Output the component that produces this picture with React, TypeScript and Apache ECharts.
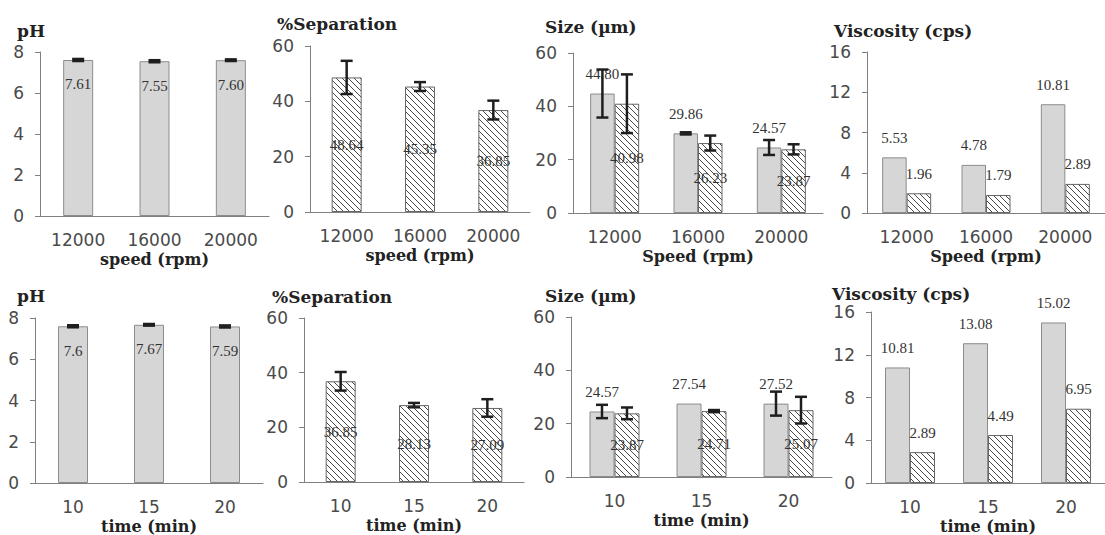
import React, { useEffect, useRef } from "react";
import * as echarts from "echarts";

// ---- data ----
const speedCats = ["12000", "16000", "20000"];
const timeCats = ["10", "15", "20"];

const pHSpeed = [7.61, 7.55, 7.6];
const pHSpeedErr = [0.05, 0.05, 0.04];
const sepSpeed = [48.64, 45.35, 36.85];
const sepSpeedErr = [6.0, 1.6, 3.4];
const sizeSpeedA = [44.8, 29.86, 24.57];
const sizeSpeedAErr = [9.0, 0.4, 2.8];
const sizeSpeedB = [40.98, 26.23, 23.87];
const sizeSpeedBErr = [11.0, 2.8, 1.9];
const viscSpeedA = [5.53, 4.78, 10.81];
const viscSpeedB = [1.96, 1.79, 2.89];

const pHTime = [7.6, 7.67, 7.59];
const pHTimeErr = [0.05, 0.04, 0.05];
const sepTime = [36.85, 28.13, 27.09];
const sepTimeErr = [3.4, 0.8, 3.2];
const sizeTimeA = [24.57, 27.54, 27.52];
const sizeTimeAErr = [2.5, 0, 4.5];
const sizeTimeB = [23.87, 24.71, 25.07];
const sizeTimeBErr = [2.2, 0.4, 5.0];
const viscTimeA = [10.81, 13.08, 15.02];
const viscTimeB = [2.89, 4.49, 6.95];

const TICK_FONT = "DejaVu Sans";
const SERIF = "Liberation Serif";
const TITLE_FONT = "DejaVu Serif";

function makeHatch(): string {
  const c = document.createElement("canvas");
  c.width = 6;
  c.height = 6;
  const ctx = c.getContext("2d")!;
  ctx.fillStyle = "#ffffff";
  ctx.fillRect(0, 0, 6, 6);
  ctx.strokeStyle = "#4a4a4a";
  ctx.lineWidth = 1;
  ctx.beginPath();
  ctx.moveTo(-1, -1);
  ctx.lineTo(7, 7);
  ctx.moveTo(-1, 5);
  ctx.lineTo(1, 7);
  ctx.moveTo(5, -1);
  ctx.lineTo(7, 1);
  ctx.stroke();
  return c.toDataURL();
}

type SeriesSpec = {
  values: number[];
  errs?: number[];
  kind: "gray" | "hatch";
  label: any;
  fmt: (v: number) => string;
};

type Panel = {
  grid: { left: number; top: number; width: number; height: number };
  cats: string[];
  max: number;
  interval: number;
  title: string;
  titlePos: { left: number; top: number };
  xName: string;
  barWidth: number;
  series: SeriesSpec[];
};

const f2 = (v: number) => v.toFixed(2);
const raw = (v: number) => String(v);

export default function App() {
  const ref = useRef<HTMLDivElement>(null);

  useEffect(() => {
    if (!ref.current) return;
    const chart = echarts.init(ref.current, undefined, { renderer: "svg" });
    const hatch = makeHatch();

    const pHLabel = { show: true, position: "insideTop", distance: 17 };
    const inLabel = { show: true, position: "inside" };
    const topLabel = { show: true, position: "top", distance: 12 };

    const panels: Panel[] = [
      {
        grid: { left: 40, top: 52, width: 229, height: 164 },
        cats: speedCats, max: 8, interval: 2, title: "pH",
        titlePos: { left: 17, top: 22 }, xName: "speed (rpm)", barWidth: 30,
        series: [{ values: pHSpeed, errs: pHSpeedErr, kind: "gray", label: pHLabel, fmt: f2 }],
      },
      {
        grid: { left: 310, top: 46, width: 220, height: 166 },
        cats: speedCats, max: 60, interval: 20, title: "%Separation",
        titlePos: { left: 277, top: 15 }, xName: "speed (rpm)", barWidth: 30,
        series: [{ values: sepSpeed, errs: sepSpeedErr, kind: "hatch", label: inLabel, fmt: f2 }],
      },
      {
        grid: { left: 573, top: 53, width: 250, height: 160 },
        cats: speedCats, max: 60, interval: 20, title: "Size (µm)",
        titlePos: { left: 545, top: 18 }, xName: "Speed (rpm)", barWidth: 24.5,
        series: [
          { values: sizeSpeedA, errs: sizeSpeedAErr, kind: "gray", label: topLabel, fmt: f2 },
          { values: sizeSpeedB, errs: sizeSpeedBErr, kind: "hatch", label: inLabel, fmt: f2 },
        ],
      },
      {
        grid: { left: 867, top: 52, width: 253, height: 161 },
        cats: speedCats, max: 16, interval: 4, title: "Viscosity (cps)",
        titlePos: { left: 834, top: 22 }, xName: "Speed (rpm)", barWidth: 24.5,
        series: [
          { values: viscSpeedA, kind: "gray", label: topLabel, fmt: f2 },
          { values: viscSpeedB, kind: "hatch", label: topLabel, fmt: f2 },
        ],
      },
      {
        grid: { left: 35, top: 318, width: 228, height: 166 },
        cats: timeCats, max: 8, interval: 2, title: "pH",
        titlePos: { left: 17, top: 287 }, xName: "time (min)", barWidth: 30,
        series: [{ values: pHTime, errs: pHTimeErr, kind: "gray", label: pHLabel, fmt: raw }],
      },
      {
        grid: { left: 304, top: 318, width: 220, height: 164 },
        cats: timeCats, max: 60, interval: 20, title: "%Separation",
        titlePos: { left: 272, top: 288 }, xName: "time (min)", barWidth: 30,
        series: [{ values: sepTime, errs: sepTimeErr, kind: "hatch", label: inLabel, fmt: f2 }],
      },
      {
        grid: { left: 571, top: 317, width: 261, height: 160 },
        cats: timeCats, max: 60, interval: 20, title: "Size (µm)",
        titlePos: { left: 545, top: 287 }, xName: "time (min)", barWidth: 25,
        series: [
          { values: sizeTimeA, errs: sizeTimeAErr, kind: "gray", label: topLabel, fmt: f2 },
          { values: sizeTimeB, errs: sizeTimeBErr, kind: "hatch", label: inLabel, fmt: f2 },
        ],
      },
      {
        grid: { left: 871, top: 312, width: 255, height: 171 },
        cats: timeCats, max: 16, interval: 4, title: "Viscosity (cps)",
        titlePos: { left: 832, top: 285 }, xName: "time (min)", barWidth: 25,
        series: [
          { values: viscTimeA, kind: "gray", label: topLabel, fmt: f2 },
          { values: viscTimeB, kind: "hatch", label: topLabel, fmt: f2 },
        ],
      },
    ];

    const titleStyle = {
      fontFamily: TITLE_FONT,
      fontWeight: "bold" as const,
      fontSize: 17,
      color: "#222",
    };
    const nameStyle = { ...titleStyle, fontSize: 16 };

    const series: any[] = [];
    panels.forEach((p, gi) => {
      const n = p.series.length;
      p.series.forEach((s, si) => {
        const fill =
          s.kind === "gray"
            ? "#d6d6d6"
            : { image: hatch, repeat: "repeat" };
        series.push({
          type: "bar",
          xAxisIndex: gi,
          yAxisIndex: gi,
          data: s.values,
          barWidth: p.barWidth,
          barGap: "0%",
          itemStyle: {
            color: fill,
            borderColor: s.kind === "gray" ? "#8c8c8c" : "#666",
            borderWidth: 1,
          },
          label: {
            ...s.label,
            fontFamily: SERIF,
            fontSize: 15,
            color: "#333",
            formatter: (d: any) => s.fmt(d.value),
          },
          z: 2,
        });
        if (s.errs) {
          const offset = (si - (n - 1) / 2) * p.barWidth;
          const errData = s.values.map((v, i) => [i, v, s.errs![i]]);
          series.push({
            type: "custom",
            xAxisIndex: gi,
            yAxisIndex: gi,
            data: errData,
            z: 5,
            silent: true,
            renderItem: (params: any, api: any) => {
              const idx = api.value(0);
              const v = api.value(1);
              const e = api.value(2);
              if (!e) return null;
              const top = api.coord([idx, v + e]);
              const bot = api.coord([idx, v - e]);
              const cx = top[0] + offset;
              const cap = 6;
              const style = { stroke: "#1e1e1e", lineWidth: 2.5 };
              return {
                type: "group",
                children: [
                  { type: "line", shape: { x1: cx, y1: top[1], x2: cx, y2: bot[1] }, style },
                  { type: "line", shape: { x1: cx - cap, y1: top[1], x2: cx + cap, y2: top[1] }, style },
                  { type: "line", shape: { x1: cx - cap, y1: bot[1], x2: cx + cap, y2: bot[1] }, style },
                ],
              };
            },
          });
        }
      });
    });

    chart.setOption({
      animation: false,
      backgroundColor: "#ffffff",
      title: panels.map((p) => ({
        text: p.title,
        left: p.titlePos.left,
        top: p.titlePos.top,
        padding: 0,
        textStyle: titleStyle,
      })),
      grid: panels.map((p) => ({ ...p.grid })),
      xAxis: panels.map((p, i) => ({
        type: "category",
        gridIndex: i,
        data: p.cats,
        name: p.xName,
        nameLocation: "middle",
        nameGap: 35,
        nameTextStyle: nameStyle,
        axisLine: { lineStyle: { color: "#808080", width: 1 } },
        axisTick: { length: 5, lineStyle: { color: "#808080" } },
        axisLabel: { fontFamily: TICK_FONT, fontSize: 17, color: "#4a4a4a", margin: 15 },
      })),
      yAxis: panels.map((p, i) => ({
        type: "value",
        gridIndex: i,
        min: 0,
        max: p.max,
        interval: p.interval,
        splitLine: { show: false },
        axisLine: { show: true, lineStyle: { color: "#808080", width: 1 } },
        axisTick: { show: true, length: 5, lineStyle: { color: "#808080" } },
        axisLabel: { fontFamily: TICK_FONT, fontSize: 17, color: "#4a4a4a", margin: 16 },
      })),
      series,
    });

    return () => chart.dispose();
  }, []);

  return (
    <div
      ref={ref}
      style={{ position: "absolute", left: 0, top: 0, width: 1105, height: 535 }}
    />
  );
}
